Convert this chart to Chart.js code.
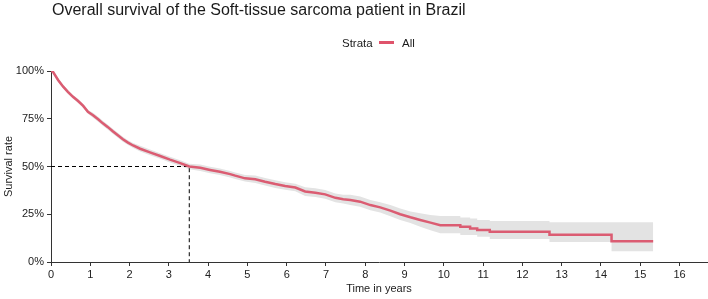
<!DOCTYPE html>
<html>
<head>
<meta charset="utf-8">
<script src="https://cdn.jsdelivr.net/npm/chart.js@4"></script>
<style>
html,body{margin:0;padding:0;background:#fff;}
canvas{display:block;}
</style>
</head>
<body>
<canvas id="c" width="708" height="299"></canvas>
<script>
const titleText = "Overall survival of the Soft-tissue sarcoma patient in Brazil";
const legendTitle = "Strata";
const seriesName = "All";
const xTicks = [0,1,2,3,4,5,6,7,8,9,10,11,12,13,14,15,16];
const yTicks = [0,25,50,75,100];

const times = [0,0.05,0.18,0.31,0.43,0.56,0.69,0.82,0.94,1.07,1.2,1.32,1.45,1.58,1.71,1.83,1.96,2.09,2.27,2.52,2.78,3.03,3.29,3.52,3.8,4.05,4.3,4.56,4.69,4.94,5.2,5.45,5.71,5.96,6.22,6.47,6.73,6.98,7.24,7.44,7.62,7.87,8.13,8.38,8.64,8.89,9.15,9.4,9.66,9.91,10.42,10.42,10.67,10.67,10.85,10.85,11.17,11.17,12.69,12.69,14.27,14.27,15.33];
const survival = [100,99.6,95.3,91.8,89.1,86.5,84.3,81.7,78.6,76.8,74.7,72.6,70.6,68.3,66.2,64.3,62.5,61.0,59.3,57.4,55.5,53.6,51.8,50.0,49.3,48.2,47.2,46.0,45.2,43.8,43.3,42.0,40.8,39.8,39.0,36.9,36.3,35.4,33.6,32.9,32.5,31.6,29.8,28.6,26.9,25.0,23.4,22.0,20.6,19.3,19.3,18.5,18.5,17.6,17.6,16.8,16.8,15.9,15.9,14.3,14.3,10.8,10.8];
const upperCI = [100,100,96.3,92.8,90.1,87.5,85.3,82.7,79.6,78.1,76.0,73.9,71.9,69.6,67.5,65.6,63.8,62.3,60.8,58.9,57.0,55.1,53.3,51.5,51.0,49.9,48.9,47.7,46.9,45.5,45.3,44.0,42.8,41.8,41.0,39.2,38.6,37.7,35.9,35.2,35.2,34.3,32.5,31.3,29.9,28.0,26.4,25.5,24.6,24.1,24.1,23.3,23.3,22.8,22.8,22.0,22.0,21.5,21.5,20.8,20.8,20.8,20.8];
const lowerCI = [100,99.0,94.3,90.8,88.1,85.5,83.3,80.7,77.6,75.5,73.4,71.3,69.3,67.0,64.9,63.0,61.2,59.7,57.8,55.9,54.0,52.1,50.3,48.5,47.6,46.5,45.5,44.3,43.5,42.1,41.3,40.0,38.8,37.8,37.0,34.6,34.0,33.1,31.3,30.6,29.8,28.9,27.1,25.9,23.9,22.0,20.4,18.5,16.6,15.0,15.0,14.1,14.1,14.1,14.1,13.2,13.2,12.0,12.0,10.5,10.5,5.6,5.6];
const medianX = [0,3.52,3.52];
const medianY = [50,50,0];

const CURVE = '#DB5C72';
const LEGEND_LINE = '#DF536B';
const FONT = '"Liberation Sans", Arial, sans-serif';

const pts = (xs, ys) => xs.map((x, i) => ({x: x, y: ys[i]}));

const overlay = {
  id: 'overlay',
  afterDraw(chart) {
    const ctx = chart.ctx;
    ctx.save();
    ctx.fillStyle = '#1a1a1a';
    ctx.textBaseline = 'alphabetic';
    ctx.textAlign = 'left';
    ctx.font = '16px ' + FONT;
    ctx.fillText(titleText, 52, 15);
    ctx.font = '11.5px ' + FONT;
    ctx.fillText(legendTitle, 342, 46.5);
    ctx.strokeStyle = LEGEND_LINE;
    ctx.lineWidth = 3;
    ctx.beginPath();
    ctx.moveTo(379, 42.5);
    ctx.lineTo(394, 42.5);
    ctx.stroke();
    ctx.fillText(seriesName, 402, 46.5);
    ctx.restore();
  }
};

new Chart(document.getElementById('c'), {
  type: 'line',
  data: {
    datasets: [
      { data: pts(times, survival), borderColor: CURVE, borderWidth: 2.5, pointRadius: 0, tension: 0, fill: false },
      { data: pts(medianX, medianY), borderColor: '#000', borderWidth: 1, borderDash: [4,3], pointRadius: 0, tension: 0, fill: false },
      { data: pts(times, upperCI), borderWidth: 0, borderColor: 'rgba(0,0,0,0)', pointRadius: 0, tension: 0, fill: false },
      { data: pts(times, lowerCI), borderWidth: 0, borderColor: 'rgba(0,0,0,0)', backgroundColor: '#e3e3e3', pointRadius: 0, tension: 0, fill: '-1' }
    ]
  },
  options: {
    responsive: false,
    animation: false,
    devicePixelRatio: 1,
    events: [],
    layout: { padding: { top: 71, right: 1, left: 0, bottom: 0 } },
    plugins: { legend: { display: false }, title: { display: false }, tooltip: { enabled: false } },
    scales: {
      x: {
        type: 'linear', min: 0, max: 16.7,
        afterBuildTicks: s => { s.ticks = xTicks.map(v => ({value: v})); },
        afterFit: s => { s.height = 37; },
        grid: { drawOnChartArea: false, drawTicks: true, tickLength: 4, color: '#333' },
        border: { display: true, color: '#333', width: 1 },
        ticks: { color: '#222', font: { family: FONT, size: 11 }, padding: 2, maxRotation: 0, autoSkip: false },
        title: { display: true, text: 'Time in years', color: '#222', font: { family: FONT, size: 11 }, padding: { top: 0, bottom: 3 } }
      },
      y: {
        type: 'linear', min: 0, max: 100,
        afterBuildTicks: s => { s.ticks = yTicks.map(v => ({value: v})); },
        afterFit: s => { s.width = 51; },
        grid: { drawOnChartArea: false, drawTicks: true, tickLength: 4, color: '#333' },
        border: { display: true, color: '#333', width: 1 },
        ticks: { color: '#222', font: { family: FONT, size: 11 }, padding: 3, callback: v => v + '%' },
        title: { display: true, text: 'Survival rate', color: '#222', font: { family: FONT, size: 11 }, padding: { top: 2, bottom: 0 } }
      }
    }
  },
  plugins: [overlay]
});
</script>
</body>
</html>
